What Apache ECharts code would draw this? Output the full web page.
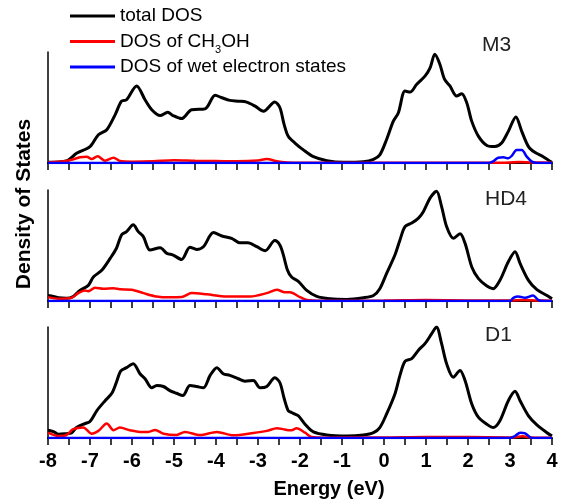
<!DOCTYPE html>
<html>
<head>
<meta charset="utf-8">
<script src="https://cdn.jsdelivr.net/npm/echarts@6/dist/echarts.min.js"></script>
<style>html,body{margin:0;padding:0;background:#fff;}#chart{width:565px;height:502px;}</style>
</head>
<body>
<div id="chart"></div>
<script>
// ---- Data (energy in eV, DOS in arbitrary units, 0-100) ----
const panelLabels = ['M3', 'HD4', 'D1'];
const seriesNames = ['total DOS', 'DOS of CH3OH', 'DOS of wet electron states'];
const xTickLabels = [-8, -7, -6, -5, -4, -3, -2, -1, 0, 1, 2, 3, 4];

const m3Total = [[-8,0.6],[-7.56,1.8],[-7.32,8.8],[-7.0,14.8],[-6.8,25.5],[-6.6,30],[-6.4,43.6],[-6.25,55.7],[-6.13,57],[-5.89,69.4],[-5.69,57],[-5.53,48],[-5.33,42.7],[-5.15,45.8],[-5.02,42.7],[-4.82,40],[-4.58,48],[-4.26,48.8],[-4.02,61],[-3.86,58.8],[-3.67,56.4],[-3.47,55.7],[-3.27,54.8],[-3.07,51.2],[-2.87,46.7],[-2.6,55],[-2.48,50],[-2.38,35],[-2.28,24],[-2.12,18],[-1.92,11.8],[-1.68,5.7],[-1.36,2.1],[-0.97,0.6],[-0.49,1.2],[-0.25,3.3],[-0.1,7.3],[0.06,21],[0.22,37.5],[0.34,45],[0.5,64.8],[0.62,63.9],[0.78,71],[0.98,78.5],[1.1,86],[1.21,98],[1.33,89],[1.44,75.5],[1.57,69.4],[1.73,60.3],[1.85,62.4],[1.97,54.3],[2.09,37.5],[2.25,24],[2.45,15.8],[2.64,14.8],[2.8,18],[2.96,28.5],[3.14,41.5],[3.28,28.5],[3.44,14.8],[3.6,9.4],[3.79,5.7],[4,0.5]];
const m3Meoh = [[-8,0.5],[-7.56,1.8],[-7.4,3.3],[-7.24,5.1],[-7.08,5.7],[-6.96,3.6],[-6.82,6.1],[-6.64,2.1],[-6.44,4.8],[-6.29,1.8],[-6.0,1.2],[-5.5,1.5],[-5.0,2.5],[-4.5,2.0],[-4.0,1.8],[-3.5,1.5],[-3.0,2.2],[-2.79,3.6],[-2.55,1.5],[-2.3,0.5],[-2.0,0.2],[0,0.2],[2.8,0.3],[3.2,0.8],[3.5,0.5],[4,0.2]];
const m3Wet = [[-8,0],[2.5,0],[2.6,1.5],[2.72,4.8],[2.84,5.1],[2.96,4.2],[3.04,6.4],[3.16,11.8],[3.28,11.8],[3.4,5.7],[3.52,1.2],[3.64,0],[4,0]];

const hd4Total = [[-8,5],[-7.87,4.1],[-7.75,2.9],[-7.56,2.5],[-7.4,4.1],[-7.24,9.5],[-7.04,14.1],[-6.92,21.6],[-6.72,27.7],[-6.52,38.4],[-6.37,47.5],[-6.25,59.5],[-6.13,62.5],[-5.97,68.6],[-5.85,62.5],[-5.73,58],[-5.57,45.9],[-5.33,48],[-5.17,42.9],[-5.02,41.4],[-4.82,37.4],[-4.62,48.4],[-4.46,46.5],[-4.3,48.9],[-4.06,61.6],[-3.86,58.6],[-3.63,56.5],[-3.44,52.5],[-3.24,52.5],[-3.03,48.9],[-2.83,45.3],[-2.6,54.4],[-2.48,50.5],[-2.4,42],[-2.3,28],[-2.2,21.6],[-2.04,17.7],[-1.84,9.5],[-1.6,4.1],[-1.29,2],[-0.89,1.4],[-0.49,2.9],[-0.25,5],[-0.1,11.1],[0.06,24.7],[0.26,41.4],[0.38,55],[0.5,67.1],[0.66,70.2],[0.82,74.7],[0.94,80.7],[1.1,92.9],[1.25,98.9],[1.37,85.3],[1.49,67.1],[1.65,56.5],[1.81,60.5],[1.93,52],[2.09,30.7],[2.25,20.2],[2.45,13.5],[2.6,11.1],[2.76,18.6],[2.96,35.3],[3.12,44.4],[3.24,33.8],[3.44,18.6],[3.64,10.2],[3.88,5],[4,2]];
const hd4Meoh = [[-8,3.5],[-7.75,2],[-7.44,2.9],[-7.28,7.1],[-7.12,9.5],[-7.04,8.8],[-6.88,12],[-6.68,11.1],[-6.44,11.5],[-6.29,10.6],[-6.01,10.2],[-5.73,7.1],[-5.42,4.1],[-5.1,3.3],[-4.82,3.5],[-4.58,7.1],[-4.22,6],[-3.75,4.1],[-3.19,4.1],[-2.79,7.1],[-2.55,10.2],[-2.36,7.8],[-2.24,7.8],[-2.0,3.5],[-1.84,1],[-1.5,0.3],[0,0.4],[1,0.8],[2,0.5],[3,0.4],[3.3,0.8],[3.6,0.5],[4,0.2]];
const hd4Wet = [[-8,0],[3.0,0],[3.08,2.9],[3.2,4.1],[3.36,2.9],[3.55,5],[3.67,1],[3.79,0],[4,0]];

const d1Total = [[-8,7],[-7.87,5.8],[-7.75,3.3],[-7.56,3.9],[-7.44,4.5],[-7.32,9.4],[-7.12,13],[-7.0,14.8],[-6.84,24.5],[-6.64,33.6],[-6.48,40.3],[-6.37,50.3],[-6.27,60.3],[-6.13,63.4],[-5.97,67],[-5.81,57.9],[-5.69,53.4],[-5.53,45.2],[-5.41,47.3],[-5.25,46.4],[-5.1,42.7],[-4.94,40.3],[-4.79,38.2],[-4.62,47.3],[-4.46,46.4],[-4.3,45.2],[-4.14,56.4],[-3.98,63.4],[-3.83,57.9],[-3.67,56.4],[-3.47,53.4],[-3.31,51.2],[-3.11,51.8],[-2.95,45.2],[-2.79,46.4],[-2.6,54.2],[-2.48,50],[-2.38,36],[-2.28,24.5],[-2.2,23],[-2.12,21.5],[-2.04,20],[-1.88,12.4],[-1.68,5.5],[-1.36,2.7],[-0.89,1.8],[-0.49,2.7],[-0.25,4.8],[-0.1,9.4],[0.06,21.5],[0.26,39.7],[0.38,56.4],[0.5,69],[0.66,71.5],[0.82,79.1],[0.98,85.2],[1.14,94.3],[1.25,100],[1.37,85.2],[1.49,67],[1.65,54.8],[1.81,60.9],[1.93,51.8],[2.09,30.6],[2.25,18.5],[2.45,12.4],[2.6,9.4],[2.76,15.5],[2.96,33.6],[3.12,42.1],[3.24,33.6],[3.44,20],[3.64,11.8],[3.88,4.8],[4,1.8]];
const d1Meoh = [[-8,4.8],[-7.75,1.8],[-7.56,2.7],[-7.4,7.9],[-7.16,9.4],[-6.96,3.9],[-6.8,6.4],[-6.6,13],[-6.44,7],[-6.29,9.4],[-6.05,7],[-5.81,5.5],[-5.61,5.5],[-5.45,7.3],[-5.25,3.9],[-4.94,2.7],[-4.74,5.5],[-4.38,2.7],[-3.98,5.5],[-3.59,2.4],[-3.11,4.5],[-2.79,6.4],[-2.55,8.8],[-2.4,8],[-2.32,7.3],[-2.2,7],[-2.08,8.8],[-1.88,4.8],[-1.72,0.9],[-1.4,0.3],[0,0.5],[1,1],[2,0.8],[3,0.5],[3.3,1.5],[3.5,0.5],[4,0.2]];
const d1Wet = [[-8,0],[3.0,0],[3.12,1.8],[3.24,4.8],[3.36,4.2],[3.48,0.6],[3.56,0],[4,0]];

const panelData = [[m3Total, m3Meoh, m3Wet],[hd4Total, hd4Meoh, hd4Wet],[d1Total, d1Meoh, d1Wet]];

// ---- Chart ----
const FONT = '"Liberation Sans", Arial, Helvetica, sans-serif';
const colors = ['#000000', '#ff0000', '#0000ff'];
const widths = [3, 2.5, 2.5];
const gridTops = [52, 190, 327];
const gridH = 111;

const grids = gridTops.map(t => ({ left: 48, right: 13, top: t, height: gridH }));
const xAxes = gridTops.map((t, i) => ({
  type: 'value', gridIndex: i, min: -8, max: 4, interval: 0.5,
  axisLine: { show: true, onZero: false, lineStyle: { color: '#000', width: 2 } },
  axisTick: { show: true, inside: false, length: 7, lineStyle: { color: '#000', width: 1.5 } },
  axisLabel: {
    show: i === 2, margin: 13, color: '#000', fontSize: 20, fontWeight: 'bold', fontFamily: FONT,
    formatter: v => (xTickLabels.indexOf(v) >= 0 ? String(v) : '')
  },
  splitLine: { show: false }
}));
const yAxes = gridTops.map((t, i) => ({
  type: 'value', gridIndex: i, min: 0, max: 100,
  axisLine: { show: true, onZero: false, lineStyle: { color: '#000', width: 1.5 } },
  axisTick: { show: false }, axisLabel: { show: false }, splitLine: { show: false }
}));
const series = [];
panelData.forEach((sets, p) => {
  sets.forEach((d, k) => {
    series.push({
      type: 'line', name: seriesNames[k], xAxisIndex: p, yAxisIndex: p,
      data: d, showSymbol: false, smooth: 0.3, color: colors[k],
      lineStyle: { color: colors[k], width: widths[k] }, z: 2 + k
    });
  });
});

const graphics = [
  { type: 'text', x: 24, y: 204, rotation: Math.PI / 2,
    style: { text: 'Density of States', font: 'bold 21px ' + FONT, fill: '#000', textAlign: 'center', textVerticalAlign: 'middle' } },
  { type: 'text', x: 329, y: 489,
    style: { text: 'Energy (eV)', font: 'bold 20px ' + FONT, fill: '#000', textAlign: 'center', textVerticalAlign: 'middle' } },
  { type: 'text', x: 482, y: 45, style: { text: panelLabels[0], font: '21px ' + FONT, fill: '#222', textAlign: 'left', textVerticalAlign: 'middle' } },
  { type: 'text', x: 485, y: 199, style: { text: panelLabels[1], font: '21px ' + FONT, fill: '#222', textAlign: 'left', textVerticalAlign: 'middle' } },
  { type: 'text', x: 485, y: 335, style: { text: panelLabels[2], font: '21px ' + FONT, fill: '#222', textAlign: 'left', textVerticalAlign: 'middle' } }
];

const chart = echarts.init(document.getElementById('chart'), null, { renderer: 'canvas' });
chart.setOption({
  animation: false,
  backgroundColor: '#fff',
  grid: grids, xAxis: xAxes, yAxis: yAxes, series: series,
  legend: {
    orient: 'vertical', left: 70, top: 6, padding: 0, itemWidth: 45, itemHeight: 3, itemGap: 2, icon: 'rect',
    data: seriesNames,
    formatter: name => name === 'DOS of CH3OH' ? '{t|DOS of CH}{s|3}{t|OH}' : '{t|' + name + '}',
    textStyle: {
      color: '#000', fontSize: 19, fontFamily: FONT, lineHeight: 20,
      rich: {
        t: { fontSize: 19, lineHeight: 20, color: '#000', fontFamily: FONT },
        s: { fontSize: 11, lineHeight: 4, padding: [16, 0, 0, 0], color: '#000', fontFamily: FONT }
      }
    }
  },
  graphic: graphics
});
</script>
</body>
</html>
